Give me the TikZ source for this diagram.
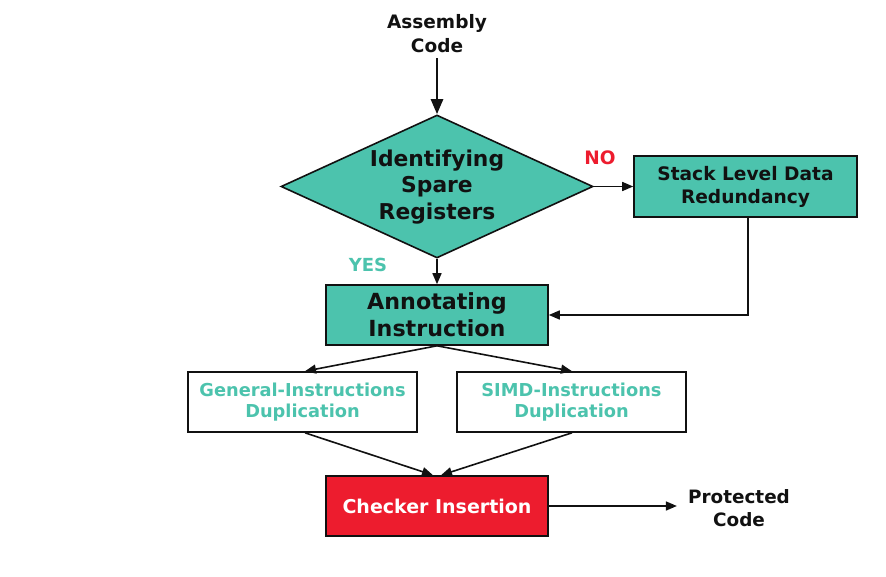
\documentclass[tikz,border=0pt]{standalone}
\usepackage{fontspec}
\setmainfont{DejaVu Sans}
\usetikzlibrary{shapes.geometric,arrows.meta}
\definecolor{tealf}{HTML}{4CC3AD}
\definecolor{redf}{HTML}{ED1C2E}
\definecolor{ink}{HTML}{111111}
\tikzset{
  box/.style={draw=ink, line width=1.6pt, inner sep=0pt, align=center, font=\bfseries},
  diam/.style={draw=ink, line width=1.6pt, shape=diamond, inner sep=0pt, fill=tealf},
  txt/.style={inner sep=1pt, align=center, font=\bfseries},
  arr/.style={draw=ink, line width=1.6pt, -{Triangle[length=11pt,width=9pt]}},
}
\begin{document}
\begin{tikzpicture}[x=1pt,y=-1pt]
\useasboundingbox (0,0) rectangle (886,577);
% nodes
\node[txt, text=ink, font=\bfseries\fontsize{18.5}{24}\selectfont] (asm) at (437,34) {Assembly\\Code};
\node[diam, minimum width=312pt, minimum height=143pt] (id) at (437,186.5) {};
\node[txt, text=ink, font=\bfseries\fontsize{21.8}{26.5}\selectfont] (idt) at (437,187) {Identifying\\Spare\\Registers};
\node[box, fill=tealf, text=ink, minimum width=223pt, minimum height=61pt, font=\bfseries\fontsize{18.6}{23}\selectfont] (stack) at (745.5,186.5) {Stack Level Data\\Redundancy};
\node[box, fill=tealf, text=ink, minimum width=222pt, minimum height=60pt, font=\bfseries\fontsize{22.2}{27}\selectfont] (annot) at (437,315) {Annotating\\Instruction};
\node[box, fill=white, text=tealf, minimum width=229pt, minimum height=60pt, font=\bfseries\fontsize{17.8}{21.5}\selectfont] (gen) at (302.5,402) {General-Instructions\\Duplication};
\node[box, fill=white, text=tealf, minimum width=229pt, minimum height=60pt, font=\bfseries\fontsize{17.8}{21.5}\selectfont] (simd) at (571.5,402) {SIMD-Instructions\\Duplication};
\node[box, fill=redf, text=white, minimum width=222pt, minimum height=60pt, font=\bfseries\fontsize{19}{23}\selectfont] (check) at (437,506) {Checker Insertion};
\node[txt, text=ink, font=\bfseries\fontsize{18.4}{23.5}\selectfont] (prot) at (739,508) {Protected\\Code};
\node[txt, text=redf, font=\bfseries\fontsize{18.5}{18}\selectfont] (no) at (600,158) {NO};
\node[txt, text=tealf, font=\bfseries\fontsize{18}{18}\selectfont] (yes) at (368,265) {YES};
% connectors
\draw[arr, line width=2.6pt, -{Triangle[length=15pt,width=12pt]}] (asm.south) ++(0,4) -- (id.north);
\draw[arr] (id.east) -- (stack.west);
\draw[arr] (id.south) -- (annot.north);
\draw[arr] ([xshift=2.5pt]stack.south) -- ([xshift=2.5pt]stack.south |- annot.east) -- (annot.east);
\draw[arr] (annot.south) -- ([xshift=2.5pt]gen.north);
\draw[arr] (annot.south) -- ([xshift=0.5pt]simd.north);
\draw[arr] ([xshift=2.5pt]gen.south) -- ([xshift=-4pt]check.north);
\draw[arr] ([xshift=0.5pt]simd.south) -- ([xshift=4pt]check.north);
\draw[arr] (check.east) -- ([xshift=-10pt]prot.west |- check.east);
\end{tikzpicture}
\end{document}
